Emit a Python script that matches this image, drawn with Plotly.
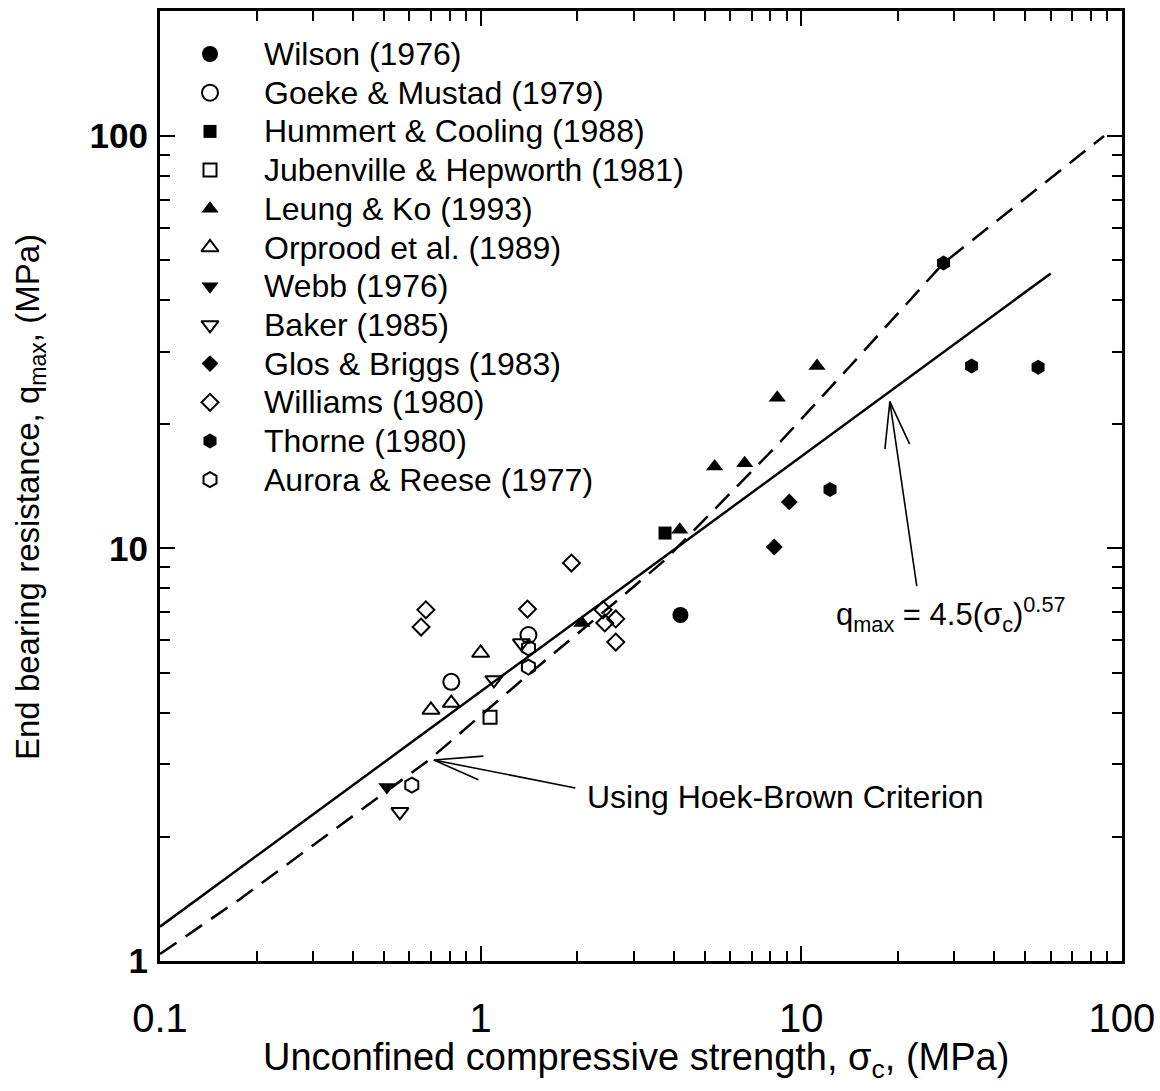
import numpy as np
import plotly.graph_objects as go

# ---------------- measured data (sigma_c in MPa, q_max in MPa) ----------------
wilson_sigma = [4.2]
wilson_q = [6.9]

goeke_sigma = [0.81, 1.41]
goeke_q = [4.75, 6.17]

hummert_sigma = [3.76]
hummert_q = [10.9]

jubenville_sigma = [1.07]
jubenville_q = [3.9]

leung_sigma = [2.07, 4.18, 5.37, 6.66, 8.42, 11.2]
leung_q = [6.6, 11.1, 15.8, 16.1, 23.2, 27.7]

orprood_sigma = [1.0, 0.70, 0.81]
orprood_q = [5.58, 4.06, 4.22]

webb_sigma = [0.51]
webb_q = [2.64]

baker_sigma = [0.56, 1.10, 1.34]
baker_q = [2.30, 4.8, 5.9]

glos_sigma = [9.18, 8.24]
glos_q = [12.97, 10.08]

williams_sigma = [0.675, 0.652, 1.92, 1.40, 2.41, 2.44, 2.64, 2.64]
williams_q = [7.1, 6.45, 9.22, 7.13, 7.1, 6.6, 6.75, 5.93]

thorne_sigma = [27.8, 34.0, 54.8, 12.3]
thorne_q = [49.2, 27.7, 27.5, 13.9]

aurora_sigma = [1.41, 1.41, 0.61]
aurora_q = [5.74, 5.16, 2.67]

series_labels = [
    "Wilson (1976)", "Goeke & Mustad (1979)", "Hummert & Cooling (1988)",
    "Jubenville & Hepworth (1981)", "Leung & Ko (1993)", "Orprood et al. (1989)",
    "Webb (1976)", "Baker (1985)", "Glos & Briggs (1983)", "Williams (1980)",
    "Thorne (1980)", "Aurora & Reese (1977)",
]
series_sigma = [wilson_sigma, goeke_sigma, hummert_sigma, jubenville_sigma,
                leung_sigma, orprood_sigma, webb_sigma, baker_sigma,
                glos_sigma, williams_sigma, thorne_sigma, aurora_sigma]
series_q = [wilson_q, goeke_q, hummert_q, jubenville_q, leung_q, orprood_q,
            webb_q, baker_q, glos_q, williams_q, thorne_q, aurora_q]

# Hoek-Brown based prediction
hb_sigma = [0.1, 0.177, 0.69, 1.38, 2.68, 3.76, 8.42, 14.1, 27.8, 88.0]
hb_q = [1.04, 1.41, 3.07, 4.88, 7.5, 9.38, 17.8, 27.5, 49.2, 100.0]

# Power-law fit q_max = 4.5 * sigma_c ** 0.57
fit_coef = 4.5
fit_exp = 0.57
fit_sigma = [0.1, 60.0]

x_tick_vals = [0.1, 1, 10, 100]
x_tick_text = ["0.1", "1", "10", "100"]
y_tick_vals = [1, 10, 100]
y_tick_text = ["1", "10", "100"]

# ---------------- layout geometry (pixels) ----------------
W, H = 1160, 1091
PL, PR, PT, PB = 160, 1122, 11, 961  # plot-area edges


def fx(px):
    return (px - PL) / (PR - PL)


def fy(py):
    return (PB - py) / (PB - PT)


# ---------------- styling ----------------
symbols = ["circle", "circle-open", "square", "square-open",
           "triangle-up", "triangle-up-open", "triangle-down", "triangle-down-open",
           "diamond", "diamond-open", "hexagon", "hexagon-open"]
sizes = {"circle": 16, "square": 13, "triangle": 15, "diamond": 13, "hexagon": 15}

SANS = "Liberation Sans, Arial, sans-serif"


def marker_style(sym):
    base = sym.split("-")[0]
    size = sizes[base]
    if sym.endswith("open"):
        return dict(symbol=sym, size=size, color="black", line=dict(color="black", width=2))
    return dict(symbol=sym, size=size, color="black", line=dict(width=0))


fig = go.Figure()

# Hoek-Brown curve (dashed)
fig.add_trace(go.Scatter(
    x=hb_sigma, y=hb_q, mode="lines", showlegend=False, hoverinfo="skip",
    line=dict(color="black", width=2.5, dash="20px,11px"),
))

# Power-law fit (solid)
fit_q = [fit_coef * s ** fit_exp for s in fit_sigma]
fig.add_trace(go.Scatter(
    x=fit_sigma, y=fit_q, mode="lines", showlegend=False, hoverinfo="skip",
    line=dict(color="black", width=2.5),
))

# data series
for label, xs, ys, sym in zip(series_labels, series_sigma, series_q, symbols):
    fig.add_trace(go.Scatter(
        x=xs, y=ys, mode="markers", name=label, showlegend=False,
        marker=marker_style(sym),
    ))

# hand-placed key in the upper left, drawn on an overlay of unit axes
key_x = fx(210)
key_text_x = fx(262)
key_y = [fy(54 + i * 38.7) for i in range(len(series_labels))]
for sym, yk in zip(symbols, key_y):
    fig.add_trace(go.Scatter(
        x=[key_x], y=[yk], xaxis="x2", yaxis="y2", mode="markers",
        showlegend=False, hoverinfo="skip", marker=marker_style(sym),
    ))

annotations = []
for label, yk in zip(series_labels, key_y):
    annotations.append(dict(
        x=key_text_x, y=yk, xref="x2", yref="y2", text=label, showarrow=False,
        xanchor="left", yanchor="middle", font=dict(family=SANS, size=32, color="black"),
    ))


def arrow_lines(tip_sigma, tip_q, tails):
    out = []
    for ax, ay in tails:
        out.append(dict(
            x=np.log10(tip_sigma), y=np.log10(tip_q), xref="x", yref="y",
            text="", showarrow=True, arrowhead=0, arrowwidth=1.6, arrowcolor="black",
            ax=ax, ay=ay, standoff=0, startstandoff=0, borderpad=0,
        ))
    return out


# arrow pointing at the Hoek-Brown curve
annotations += arrow_lines(0.715, 3.07, [(142, 28), (50, -4), (45, 20)])
# arrow pointing at the fitted line
annotations += arrow_lines(18.9, 22.7, [(27, 185), (-5, 48), (20, 43)])

annotations.append(dict(
    x=fx(585), y=fy(797), xref="paper", yref="paper",
    text="Using Hoek-Brown Criterion", showarrow=False, xanchor="left", yanchor="middle",
    font=dict(family=SANS, size=32, color="black"),
))
annotations.append(dict(
    x=fx(834), y=fy(615), xref="paper", yref="paper",
    text="q<sub>max</sub> = 4.5(σ<sub>c</sub>)<sup>0.57</sup>", showarrow=False,
    xanchor="left", yanchor="middle",
    font=dict(family=SANS, size=31, color="black"),
))
# axis titles
annotations.append(dict(
    x=fx(636), y=fy(1060), xref="paper", yref="paper",
    text="Unconfined compressive strength, σ<sub>c</sub>, (MPa)", showarrow=False,
    xanchor="center", yanchor="middle",
    font=dict(family=SANS, size=38, color="black"),
))
annotations.append(dict(
    x=fx(30), y=fy(497), xref="paper", yref="paper",
    text="End bearing resistance, q<sub>max</sub>, (MPa)", showarrow=False, textangle=-90,
    xanchor="center", yanchor="middle",
    font=dict(family=SANS, size=33, color="black"),
))

x_minor = [k * d for d in (0.1, 1, 10) for k in range(2, 10)]
y_minor = [k * d for d in (1, 10) for k in range(2, 10)] + [200]

axis_common = dict(
    type="log", showline=True, linewidth=3, linecolor="black", mirror="ticks",
    ticks="inside", ticklen=15, tickwidth=2, tickcolor="black",
    showgrid=False, zeroline=False, tickmode="array", ticklabeloverflow="allow",
    automargin=False,
)

fig.update_layout(
    width=W, height=H,
    margin=dict(l=PL, r=W - PR, t=PT, b=H - PB),
    paper_bgcolor="white", plot_bgcolor="white",
    showlegend=False,
    xaxis=dict(
        **axis_common, range=[-1, 2.0005], tickvals=x_tick_vals, ticktext=x_tick_text,
        tickfont=dict(family=SANS, size=40, color="black"), ticklabelstandoff=20,
        minor=dict(ticks="inside", ticklen=10, tickwidth=2, tickcolor="black",
                   tickmode="array", tickvals=x_minor, showgrid=False),
    ),
    yaxis=dict(
        **axis_common, range=[0, 2.303], tickvals=y_tick_vals, ticktext=y_tick_text,
        tickfont=dict(family=SANS, size=35, color="black", weight="bold"), ticklabelstandoff=2,
        minor=dict(ticks="inside", ticklen=10, tickwidth=2, tickcolor="black",
                   tickmode="array", tickvals=y_minor, showgrid=False),
    ),
    xaxis2=dict(overlaying="x", anchor="y2", range=[0, 1], visible=False),
    yaxis2=dict(overlaying="y", anchor="x2", range=[0, 1], visible=False),
    annotations=annotations,
)

fig.write_html("out.html")
